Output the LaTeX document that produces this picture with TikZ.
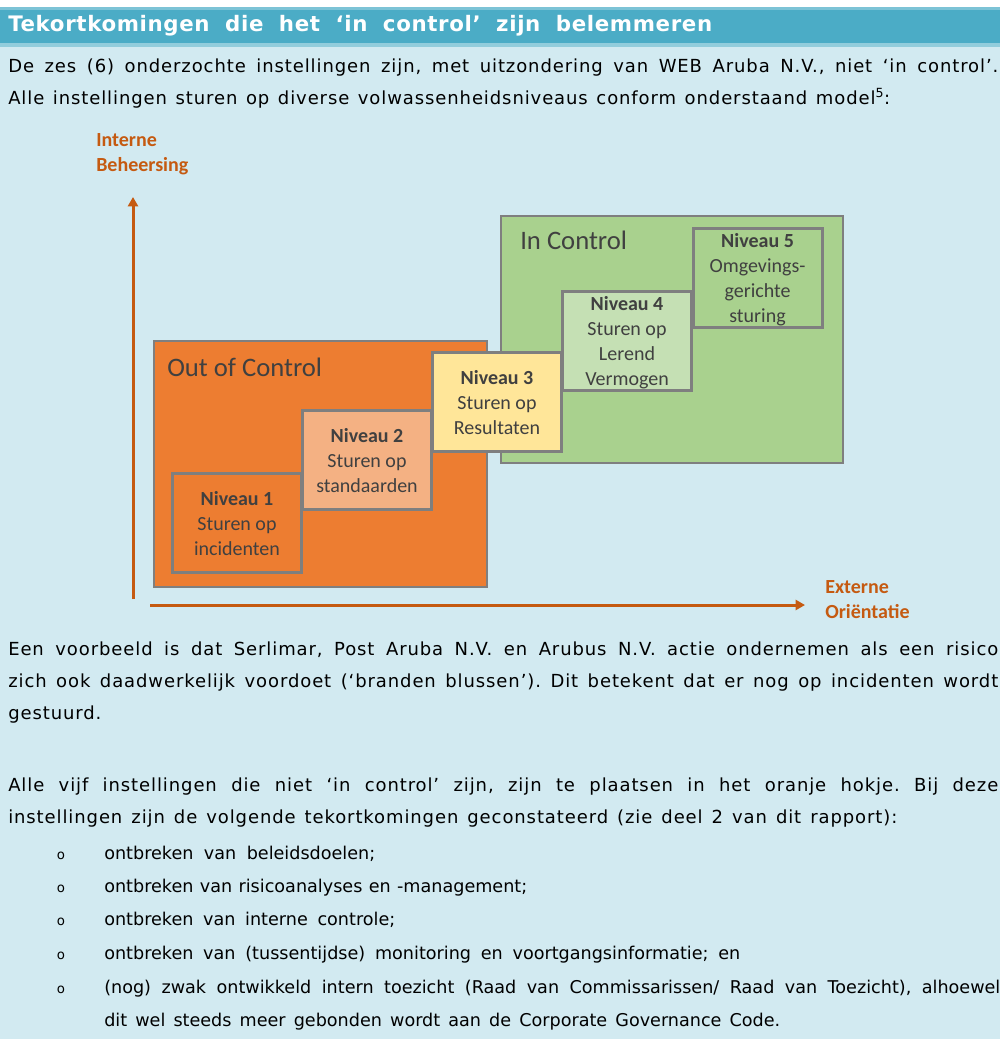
\documentclass[tikz,border=0pt]{standalone}
\usepackage{fontspec}
\usetikzlibrary{positioning,arrows.meta}
\newfontfamily\bodyfont[LetterSpace=5]{DejaVu Sans}
\newfontfamily\titlefont[LetterSpace=3]{DejaVu Sans}
\newfontfamily\listfont{DejaVu Sans}
\newfontfamily\diagfont{Carlito}
\definecolor{page}{HTML}{D2EAF1}
\definecolor{bar}{HTML}{4BACC6}
\definecolor{barhi}{HTML}{7CC3D6}
\definecolor{barlo}{HTML}{92CDDC}
\definecolor{axis}{HTML}{C55A11}
\definecolor{outc}{HTML}{ED7D31}
\definecolor{lvltwo}{HTML}{F4B183}
\definecolor{lvlthree}{HTML}{FFE699}
\definecolor{inc}{HTML}{A9D18E}
\definecolor{lvlfour}{HTML}{C5E0B4}
\definecolor{rim}{HTML}{7F7F7F}
\definecolor{ink}{HTML}{404040}
\newcommand{\stretchline}[2]{\makebox[#1][s]{#2}}
\frenchspacing

\begin{document}
\begin{tikzpicture}[x=0.75pt,y=-0.75pt,
    txt/.style={anchor=base west,inner sep=0pt,font=\bodyfont\fontsize{13.5}{16}\selectfont},
    item/.style={anchor=base west,inner sep=0pt,font=\listfont\fontsize{13.2}{16}\selectfont},
    dot/.style={anchor=base,inner sep=0pt,font=\listfont\fontsize{10}{12}\selectfont},
    zone/.style={draw=rim,line width=1.5pt,anchor=north west,inner sep=0pt},
    zonelabel/.style={anchor=base west,inner sep=0pt,text=ink,font=\diagfont\fontsize{20}{24}\selectfont},
    niveau/.style={draw=rim,line width=2.25pt,minimum width=96.75pt,minimum height=74.25pt,
      inner sep=0pt,text depth=0pt,align=center,text=ink,font=\diagfont\fontsize{15}{18.75}\selectfont},
    axislabel/.style={anchor=west,inner sep=0pt,text depth=0pt,align=left,text=axis,
      font=\diagfont\bfseries\fontsize{15}{18.75}\selectfont},
    axisline/.style={draw=axis,line width=2.25pt,-{Triangle[length=7pt,width=7.5pt]}}]
    \useasboundingbox (0,0) rectangle (1000,1039);
    % page and heading bar
    \fill[white] (0,0) rectangle (1000,1039);
    \fill[page] (0,46) rectangle (1000,1039);
    \fill[barhi] (0,7) rectangle (1000,10);
    \fill[bar] (0,10) rectangle (1000,43);
    \fill[barlo] (0,43) rectangle (1000,47);
    \node[anchor=base west,inner sep=0pt,text=white,font=\titlefont\bfseries\fontsize{16}{19}\selectfont]
      (title) at (8,31) {\stretchline{528pt}{Tekortkomingen die het ‘in control’ zijn belemmeren}};

    % text above the model
    \node[txt] (l1) at (8,72) {\stretchline{742.5pt}{De zes (6) onderzochte instellingen zijn, met uitzondering van WEB Aruba N.V., niet ‘in control’.}};
    \node[txt] (l2) at (8,104) {\stretchline{661.5pt}{Alle instellingen sturen op diverse volwassenheidsniveaus conform onderstaand model\textsuperscript{5}:}};

    % the model
    \node[zone,fill=inc,minimum width=256.5pt,minimum height=185.25pt] (inzone) at (500,215) {};
    \node[zone,fill=outc,minimum width=249.75pt,minimum height=184.5pt] (outzone) at (153,340) {};
    \node[zonelabel] (inlbl) at (520,249) {In Control};
    \node[zonelabel] (outlbl) at (167,376) {Out of Control};

    \node[niveau,fill=outc] (n1) at (237,523) {\textbf{Niveau 1}\\Sturen op\\incidenten};
    \node[niveau,fill=lvltwo,on grid,above right=47.1pt and 97.5pt of n1] (n2) {\textbf{Niveau 2}\\Sturen op\\standaarden};
    \node[niveau,fill=lvlthree,on grid,above right=43.3pt and 97.5pt of n2] (n3) {\textbf{Niveau 3}\\Sturen op\\Resultaten};
    \node[niveau,fill=lvlfour,on grid,above right=46pt and 97.5pt of n3] (n4) {\textbf{Niveau 4}\\Sturen op\\Lerend\\Vermogen};
    \node[niveau,fill=inc,on grid,above right=47.6pt and 97.9pt of n4] (n5) {\textbf{Niveau 5}\\Omgevings-\\gerichte\\sturing};

    \coordinate (ybot) at (133,599);
    \coordinate (ytop) at (133,197);
    \coordinate (xleft) at (150,605);
    \coordinate (xright) at (805,605);
    \draw[axisline] (ybot) -- (ytop);
    \draw[axisline] (xleft) -- (xright);
    \node[axislabel] (ylbl) at (96,153) {Interne\\Beheersing};
    \node[axislabel] (xlbl) at (825,600) {Externe\\Oriëntatie};

    % text below the model
    \node[txt] (l3) at (8,655) {\stretchline{742.5pt}{Een voorbeeld is dat Serlimar, Post Aruba N.V. en Arubus N.V. actie ondernemen als een risico}};
    \node[txt] (l4) at (8,687) {\stretchline{742.5pt}{zich ook daadwerkelijk voordoet (‘branden blussen’). Dit betekent dat er nog op incidenten wordt}};
    \node[txt] (l5) at (8,719) {gestuurd.};
    \node[txt] (l6) at (8,791) {\stretchline{742.5pt}{Alle vijf instellingen die niet ‘in control’ zijn, zijn te plaatsen in het oranje hokje. Bij deze}};
    \node[txt] (l7) at (8,823) {\stretchline{666.75pt}{instellingen zijn de volgende tekortkomingen geconstateerd (zie deel 2 van dit rapport):}};

    % list
    \foreach \y/\name in {859/d1,892/d2,925/d3,959/d4,993/d5}
      \node[dot] (\name) at (61,\y) {o};
    \node[item] (b1) at (104,859) {\stretchline{203.25pt}{ontbreken van beleidsdoelen;}};
    \node[item] (b2) at (104,892) {\stretchline{317.25pt}{ontbreken van risicoanalyses en -management;}};
    \node[item] (b3) at (104,925) {\stretchline{218.25pt}{ontbreken van interne controle;}};
    \node[item] (b4) at (104,959) {\stretchline{477pt}{ontbreken van (tussentijdse) monitoring en voortgangsinformatie; en}};
    \node[item] (b5) at (104,993) {\stretchline{672pt}{(nog) zwak ontwikkeld intern toezicht (Raad van Commissarissen/ Raad van Toezicht), alhoewel}};
    \node[item] (b6) at (104,1026) {\stretchline{507pt}{dit wel steeds meer gebonden wordt aan de Corporate Governance Code.}};
\end{tikzpicture}
\end{document}
